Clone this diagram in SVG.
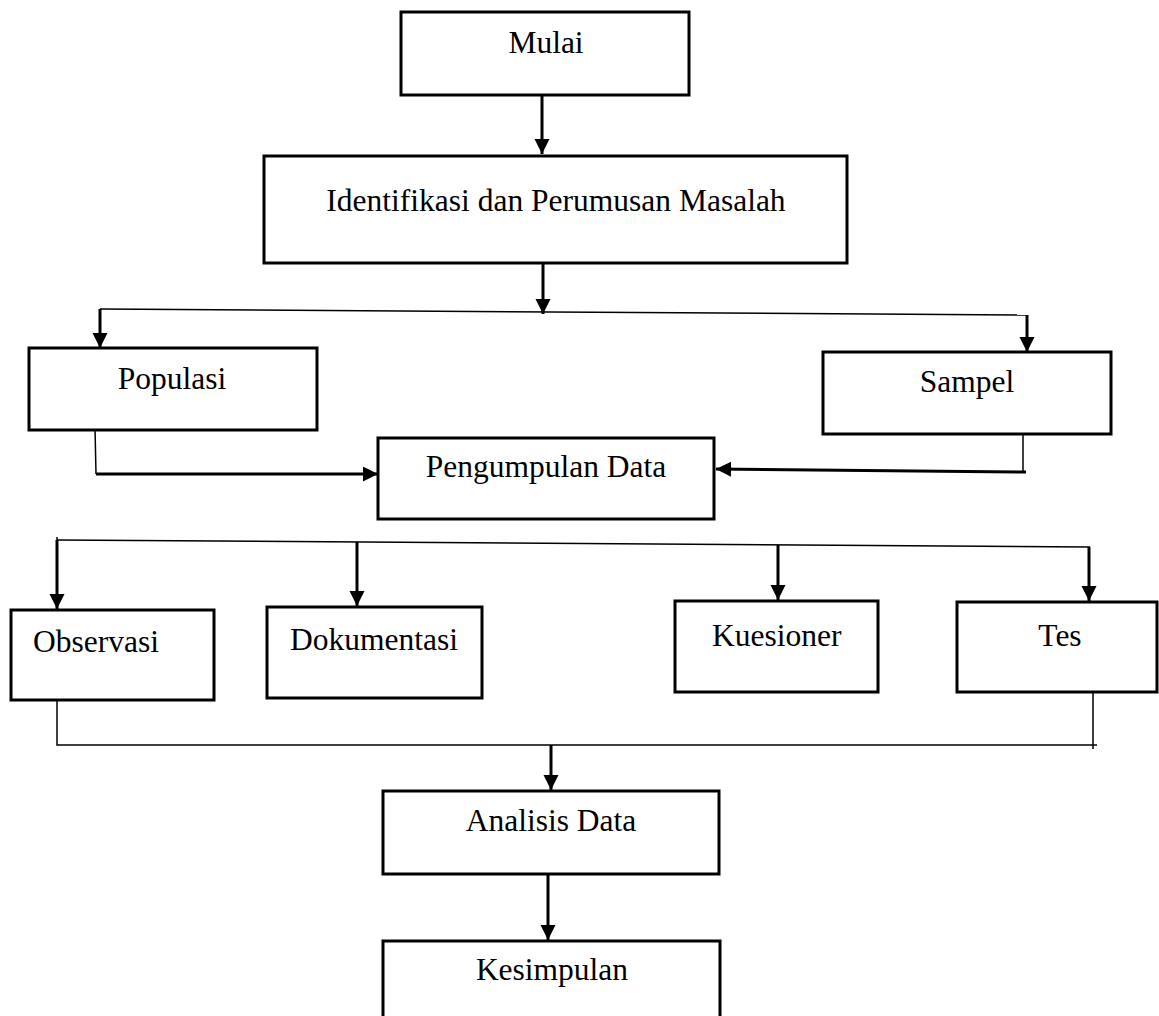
<svg xmlns="http://www.w3.org/2000/svg" width="1159" height="1016" viewBox="0 0 1159 1016">
<style>
.box{fill:#fff;stroke:#000;stroke-width:3}
.t{font-family:"Liberation Serif","Times New Roman",serif;font-size:31.5px;fill:#000}
.c{text-anchor:middle}
.thick{fill:none;stroke:#000;stroke-width:3}
.thin{fill:none;stroke:#000;stroke-width:1.5}
</style>
<defs>
<marker id="ah" markerUnits="userSpaceOnUse" markerWidth="16" markerHeight="16" refX="15" refY="7.5" orient="auto" viewBox="0 0 16 16">
<path d="M0,0 L15,7.5 L0,15 z" fill="#000"/>
</marker>
</defs>
<rect width="1159" height="1016" fill="#fff"/>
<g id="connectors">
<path class="thick" d="M542,96 V154" marker-end="url(#ah)"/>
<path class="thick" d="M543,263 V314" marker-end="url(#ah)"/>
<path class="thin" d="M100,309 L1028,315"/>
<path class="thick" d="M100,309 V348" marker-end="url(#ah)"/>
<path class="thick" d="M1027,315 V352" marker-end="url(#ah)"/>
<path class="thin" d="M95,428 L96,474"/>
<path class="thick" d="M96,474 H378" marker-end="url(#ah)"/>
<path class="thin" d="M1023,434 V472"/>
<path class="thick" d="M1026,472 L716,469" marker-end="url(#ah)"/>
<path class="thin" d="M57,540 L1090,547"/>
<path class="thin" d="M57,537 V541"/>
<path class="thick" d="M57,540 V609" marker-end="url(#ah)"/>
<path class="thick" d="M357,542 V606" marker-end="url(#ah)"/>
<path class="thick" d="M778,545 V600" marker-end="url(#ah)"/>
<path class="thick" d="M1089,547 V601" marker-end="url(#ah)"/>
<path class="thin" d="M57,700 V745 H1097"/>
<path class="thin" d="M1093,692 V749"/>
<path class="thick" d="M551,745 V790" marker-end="url(#ah)"/>
<path class="thick" d="M548,874 V940" marker-end="url(#ah)"/>
</g>
<g id="mulai"><rect class="box" x="401" y="12" width="288" height="83"/><text class="t c" x="546" y="53">Mulai</text></g>
<g id="identifikasi"><rect class="box" x="264" y="156" width="583" height="107"/><text class="t c" x="556" y="211">Identifikasi dan Perumusan Masalah</text></g>
<g id="populasi"><rect class="box" x="29" y="348" width="288" height="82"/><text class="t c" x="172" y="389">Populasi</text></g>
<g id="sampel"><rect class="box" x="823" y="352" width="288" height="82"/><text class="t c" x="967" y="392">Sampel</text></g>
<g id="pengumpulan"><rect class="box" x="378" y="438" width="336" height="81"/><text class="t c" x="546" y="477">Pengumpulan Data</text></g>
<g id="observasi"><rect class="box" x="11" y="610" width="203" height="90"/><text class="t" x="33" y="652">Observasi</text></g>
<g id="dokumentasi"><rect class="box" x="267" y="607" width="215" height="91"/><text class="t" x="290" y="650">Dokumentasi</text></g>
<g id="kuesioner"><rect class="box" x="675" y="601" width="203" height="91"/><text class="t" x="712" y="646">Kuesioner</text></g>
<g id="tes"><rect class="box" x="957" y="602" width="200" height="90"/><text class="t c" x="1060" y="646">Tes</text></g>
<g id="analisis"><rect class="box" x="383" y="791" width="336" height="83"/><text class="t c" x="551" y="831">Analisis Data</text></g>
<g id="kesimpulan"><rect class="box" x="383" y="941" width="337" height="100"/><text class="t c" x="552" y="980">Kesimpulan</text></g>
</svg>
